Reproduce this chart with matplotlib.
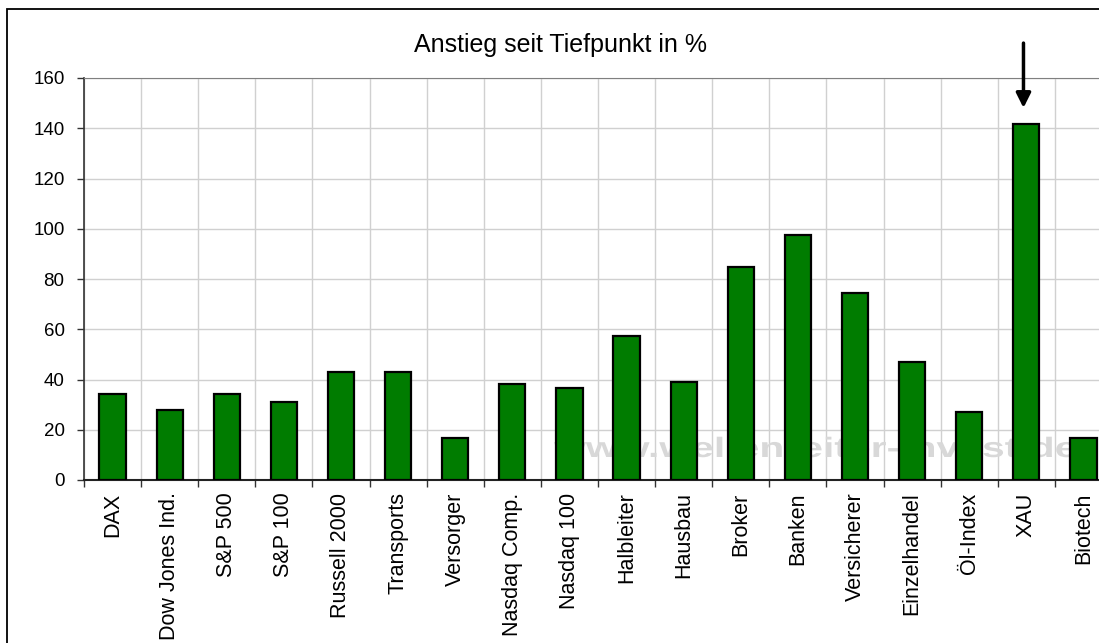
import numpy as np
import matplotlib.pyplot as plt
from matplotlib.patches import Rectangle, PathPatch
from matplotlib.textpath import TextPath
from matplotlib.font_manager import FontProperties
from matplotlib.transforms import Affine2D, IdentityTransform

plt.rcParams['font.family'] = ['Liberation Sans', 'DejaVu Sans']

categories = ['DAX', 'Dow Jones Ind.', 'S&P 500', 'S&P 100', 'Russell 2000', 'Transports',
              'Versorger', 'Nasdaq Comp.', 'Nasdaq 100', 'Halbleiter', 'Hausbau', 'Broker',
              'Banken', 'Versicherer', 'Einzelhandel', 'Öl-Index', 'XAU', 'Biotech']
values = [34.3, 28.0, 34.3, 31.1, 43.1, 43.1, 16.7, 38.3, 36.8, 57.5, 39.1, 84.8,
          97.6, 74.4, 47.1, 27.1, 141.8, 16.7]
y_ticks = [0, 20, 40, 60, 80, 100, 120, 140, 160]
title = 'Anstieg seit Tiefpunkt in %'
watermark = 'www.wellenreiter-invest.de'

W, H = 1099, 643
fig = plt.figure(figsize=(W / 100, H / 100), dpi=100)
# plot area runs past the right edge of the picture (cropped like the original)
ax = fig.add_axes([84 / W, 1 - 480 / H, (1112 - 84) / W, (480 - 78) / H])

x = np.arange(len(categories))
ax.bar(x, values, width=0.46, color='#007c00', edgecolor='black', linewidth=1.6, zorder=3)

ax.set_xlim(-0.5, len(categories) - 0.5)
ax.set_ylim(0, 160)
ax.set_yticks(y_ticks)
ax.tick_params(axis='y', labelsize=13.5, length=5, width=1, color='#333333', pad=9)

# boundaries as major ticks (grid + tick marks), category names as minor ticks
ax.set_xticks(np.arange(-0.5, len(categories), 1.0))
ax.set_xticklabels([])
ax.set_xticks(x, minor=True)
ax.set_xticklabels(categories, minor=True, rotation=90, va='top', ha='center')
ax.tick_params(axis='x', which='major', length=5, width=1, color='#333333')
ax.tick_params(axis='x', which='minor', length=0, labelsize=15.5, pad=9)

ax.grid(True, which='major', color='#d0d0d0', lw=1, zorder=0)
ax.set_axisbelow(True)

ax.spines['top'].set_color('#808080')
ax.spines['left'].set_color('#333333')
ax.spines['left'].set_linewidth(1.2)
ax.spines['bottom'].set_color('#222222')
ax.spines['bottom'].set_linewidth(1.5)
ax.spines['right'].set_visible(False)

# stretched watermark, drawn in pixel coordinates behind the bars
tp = TextPath((0, 0), watermark, size=28, prop=FontProperties(family='Liberation Sans', weight='bold'))
ext = tp.get_extents()
sx = (1076 - 554) / ext.width
wm_tr = Affine2D().translate(-ext.x0, 0).scale(sx, 1).translate(554, H - 457)
ax.add_patch(PathPatch(wm_tr.transform_path(tp), transform=IdentityTransform(),
                       facecolor='#d8d8d8', edgecolor='none', zorder=1, clip_on=False))

ax.annotate('', xy=(15.95, 147), xytext=(15.95, 175), annotation_clip=False,
            arrowprops=dict(arrowstyle='-|>', color='black', lw=2.5, mutation_scale=22))

fig.text(560 / W, 1 - 45 / H, title, fontsize=18, ha='center', va='center')

# chart frame
fig.patches.append(Rectangle((7 / W, -0.05), 1.2, 1 - 9 / H + 0.05, transform=fig.transFigure,
                             fill=False, edgecolor='black', lw=1.3))

fig.savefig('out.png', dpi=100)
